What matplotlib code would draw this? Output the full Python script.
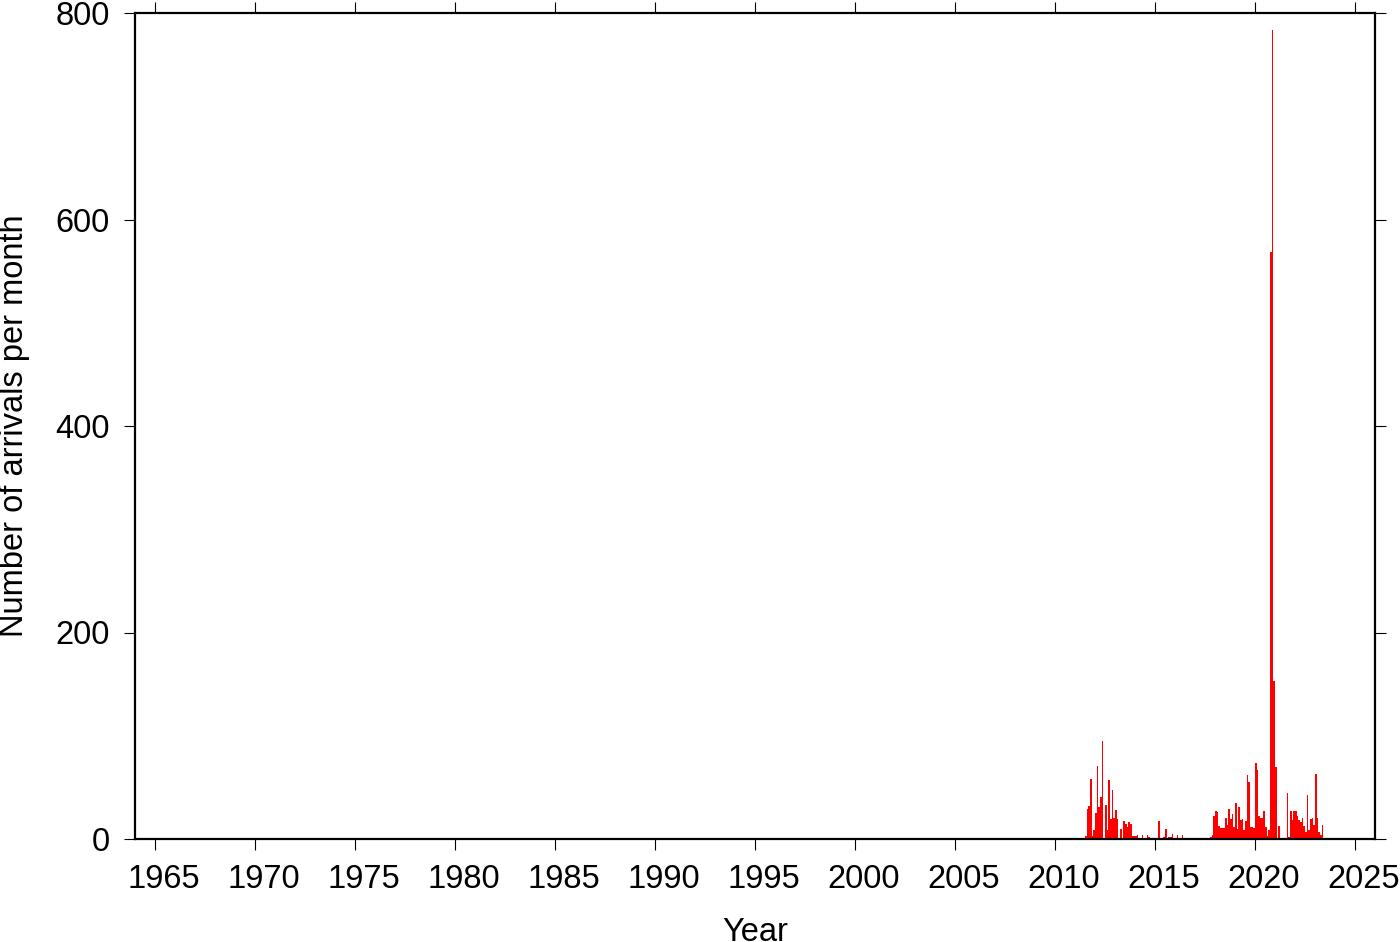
import numpy as np
import pandas as pd
import matplotlib
matplotlib.use("Agg")
import matplotlib.pyplot as plt
import matplotlib.transforms as mtransforms

plt.rcParams['font.family'] = ['Liberation Sans', 'DejaVu Sans']

# ---- data: number of arrivals per month, starting July 2011 ----
first_month = "2011-07"
counts_2011_2017 = [3, 29, 32, 58, 3, 9, 25, 71, 31, 41, 95, 0, 33, 9, 57, 19, 47, 20, 28, 19,
                    0, 10, 0, 17, 15, 12, 16, 15, 3, 3, 3, 4, 0, 0, 4, 0, 0, 4, 2, 0,
                    0, 0, 0, 0, 17, 0, 0, 2, 10, 0, 2, 2, 5, 0, 0, 4, 0, 0, 4, 0,
                    0, 0, 0, 0, 0, 0, 0, 0, 0, 0, 0, 0, 0, 0, 0]
counts_2017_2023 = [2, 4, 22, 27, 26, 13, 11, 11, 11, 20, 14, 29, 19, 24, 12, 35, 10, 31, 18, 19,
                    9, 17, 62, 55, 12, 12, 11, 74, 67, 22, 20, 20, 27, 12, 3, 9, 569, 784, 153, 70,
                    1, 13, 1, 0, 0, 0, 45, 2, 27, 18, 27, 27, 22, 18, 16, 20, 13, 7, 43, 9,
                    19, 20, 14, 63, 20, 7, 4, 14]
counts = counts_2011_2017 + counts_2017_2023

months = pd.date_range(first_month, periods=len(counts), freq="MS")
decimal_years = months.year + (months.month - 1) / 12.0

x_ticks = list(range(1965, 2030, 5))
y_ticks = [0, 200, 400, 600, 800]

fig = plt.figure(figsize=(14, 9.42), dpi=100)
ax = fig.add_axes([135/1400, 1 - 839/942, (1375-135)/1400, (839-13)/942])

ax.bar(decimal_years, counts, width=1/12, align='edge', color='#ff0000', linewidth=0)

ax.set_xlim(1964, 2026)
ax.set_ylim(0, 800)
ax.set_xticks(x_ticks)
ax.set_yticks(y_ticks)

for s in ax.spines.values():
    s.set_linewidth(1.6)

ax.tick_params(axis='both', which='major', direction='out', length=8, width=0.8,
               labelsize=23.5, pad=10, top=True, right=True, labeltop=False, labelright=False)

offset = mtransforms.ScaledTranslation(9/100, 0, fig.dpi_scale_trans)
for lab in ax.get_xticklabels():
    lab.set_transform(lab.get_transform() + offset)

ax.set_xlabel("Year", fontsize=23.5, labelpad=16)
ax.set_ylabel("Number of arrivals per month", fontsize=23.5, labelpad=18)

fig.savefig("out.png", dpi=100)
